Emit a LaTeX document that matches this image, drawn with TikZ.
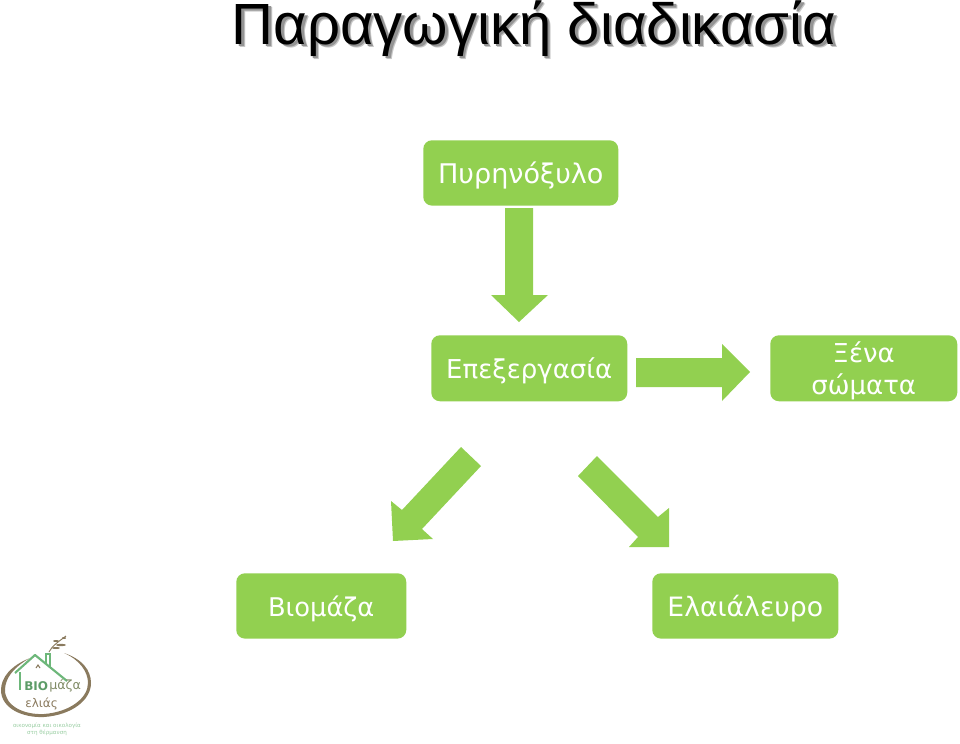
\documentclass[tikz,border=0pt]{standalone}
\usepackage{fontspec}
\setmainfont{DejaVu Sans}
\newfontfamily\titlefont{Liberation Sans}
\definecolor{leaf}{HTML}{92D050}
\definecolor{logogreen}{HTML}{6DB77A}
\definecolor{logobrown}{HTML}{8A7A5E}
\tikzset{
  px/.style={x=0.75pt,y=-0.75pt},
  greenbox/.style={fill=leaf,draw=none,rounded corners=6.5pt,inner sep=0pt,anchor=north west},
  boxlabel/.style={text=white,font=\fontsize{20.3}{24}\selectfont,align=center},
  blockarrow/.style={fill=leaf,draw=none},
  titletext/.style={font=\titlefont\fontsize{43.6}{48}\selectfont,anchor=base},
}
\begin{document}
\begin{tikzpicture}[px]
\useasboundingbox (0,0) rectangle (960,743);
% title
\node[titletext,text=black!22] (titleshadowb) at (537.5,47.5) {Παραγωγική διαδικασία};
\node[titletext,text=black!42] (titleshadow) at (536.5,46.5) {Παραγωγική διαδικασία};
\node[titletext,text=black] (title) at (534,44.5) {Παραγωγική διαδικασία};
% boxes
\node[greenbox,minimum width=146.25pt,minimum height=49pt] (pyr) at (423,140) {};
\node[boxlabel] at ([yshift=-2pt]pyr.center) {Πυρηνόξυλο};
\node[greenbox,minimum width=147pt,minimum height=49.5pt] (epex) at (431,335) {};
\node[boxlabel,font=\fontsize{19.5}{24}\selectfont] at ([yshift=-2pt]epex.center) {Επεξεργασία};
\node[greenbox,minimum width=140.25pt,minimum height=49.5pt] (xena) at (770,335) {};
\node[boxlabel,text width=130pt,font=\fontsize{19.5}{24}\selectfont] at ([yshift=-2pt]xena.center) {Ξένα\\σώματα};
\node[greenbox,minimum width=127.5pt,minimum height=49pt] (bio) at (236,573) {};
\node[boxlabel,font=\fontsize{19.3}{24}\selectfont] at ([yshift=-2pt]bio.center) {Βιομάζα};
\node[greenbox,minimum width=139.5pt,minimum height=49pt] (elaia) at (652,573) {};
\node[boxlabel,font=\fontsize{20}{24}\selectfont] at ([yshift=-2pt]elaia.center) {Ελαιάλευρο};
% block arrows
\fill[blockarrow] (505,208) -- (533,208) -- (533,295) -- (548,295) -- (519,322) -- (491,295) -- (505,295) -- cycle;
\fill[blockarrow] (636,358) -- (722,358) -- (722,344) -- (750,372) -- (722,401) -- (722,387) -- (636,387) -- cycle;
\fill[blockarrow] (461,447) -- (481,466) -- (422,529) -- (433,539) -- (393,541) -- (391,501) -- (402,510) -- cycle;
\fill[blockarrow] (597,456) -- (578,476) -- (638,537) -- (629,547) -- (669,547) -- (669,508) -- (658,517) -- cycle;
% logo
\fill[logobrown] (30,658) .. controls (10,666) and (1,678) .. (1,690) .. controls (1,708) and (22,718) .. (44,717) .. controls (72,715) and (91,700) .. (91,683) .. controls (91,670) and (82,659) .. (64,653) .. controls (80,660) and (88,672) .. (88,683) .. controls (88,698) and (70,712) .. (44,714) .. controls (24,715) and (5,706) .. (5,690) .. controls (5,678) and (14,667) .. (30,658) -- cycle;
\draw[logogreen,line width=1.6pt,line join=round] (15,673) -- (35,655) -- (67,681);
\draw[logogreen,line width=1.6pt] (20,672) -- (20,690);
\draw[logogreen,line width=1.4pt] (46,664) -- (46,654) -- (50,654) -- (50,668);
\draw[logobrown,line width=0.8pt] (36,668) -- (38,665) -- (40,668);
\draw[logobrown,line width=0.7pt] (49,652) .. controls (52,646) and (58,642) .. (66,636);
\fill[logobrown] (56,641) ellipse (3 and 1) (61,645) ellipse (5 and 1.2) (56,648) ellipse (4 and 1) (64,638) ellipse (2 and 1);
\node[font=\bfseries\fontsize{9}{11}\selectfont,text=logogreen!85!black,anchor=west,inner sep=0pt] (logobio) at (24,686) {BIO};
\node[font=\fontsize{9.5}{11}\selectfont,text=logobrown!70!logogreen,anchor=west,inner sep=0pt] (logomaza) at (49,686) {μάζα};
\node[font=\fontsize{9}{11}\selectfont,text=logobrown,anchor=west,inner sep=0pt] (logoelias) at (25,704) {ελιάς};
\node[font=\fontsize{4.2}{5.2}\selectfont,text=logogreen!70!white,align=center,inner sep=0pt] (logotag) at (47,729.5) {οικονομία και οικολογία\\στη θέρμανση};
\end{tikzpicture}
\end{document}
